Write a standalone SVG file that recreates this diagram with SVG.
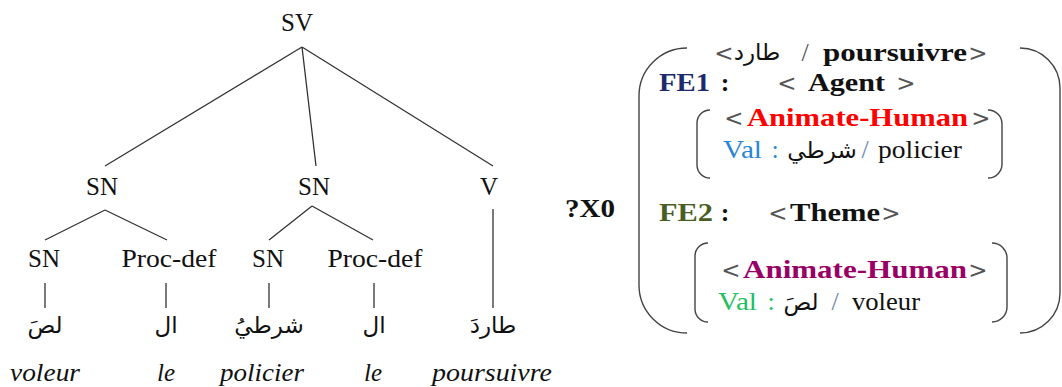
<svg xmlns="http://www.w3.org/2000/svg" width="1062" height="387" viewBox="0 0 1062 387">
<style>
.t{font-family:"Liberation Serif","Times New Roman",serif;font-size:25px;fill:#111}
.c{text-anchor:middle}
.i{font-style:italic}
.ar{font-family:"DejaVu Sans",sans-serif;font-size:23px;fill:#111;text-anchor:middle}
.b{font-family:"Liberation Serif","Times New Roman",serif;font-size:26px;font-weight:bold;fill:#111}
.r{font-family:"Liberation Serif","Times New Roman",serif;font-size:26px;fill:#111}
.sym{font-family:"DejaVu Sans",sans-serif;font-size:23px;fill:#555;text-anchor:middle}
.sl{font-family:"Liberation Serif","Times New Roman",serif;font-size:26px;fill:#555;text-anchor:middle}
.ln{stroke:#333;stroke-width:1.3;fill:none}
.br{stroke:#444;stroke-width:1.4;fill:none}
</style>
<rect width="1062" height="387" fill="#fff"/>
<g id="connectors">
<path class="ln" d="M302,47 L105,166 M302,47 L316,166 M302,47 L493,166"/>
<path class="ln" d="M105,210 L45,240 M105,210 L167,240 M312,206 L269,240 M312,206 L373,240"/>
<path class="ln" d="M45,283 L45,308 M166,283 L166,308 M269,283 L269,308 M374,283 L374,308 M493,209 L493,308"/>
</g>
<g id="n-sv"><text class="t c" x="297" y="31">SV</text></g>
<g id="n-sn1"><text class="t c" x="102" y="195">SN</text></g>
<g id="n-sn2"><text class="t c" x="314" y="195">SN</text></g>
<g id="n-v"><text class="t c" x="489" y="195">V</text></g>
<g id="n-sn1a"><text class="t c" x="44" y="267">SN</text></g>
<g id="n-proc1"><text class="t c" x="169" y="267" textLength="95" lengthAdjust="spacingAndGlyphs">Proc-def</text></g>
<g id="n-sn2a"><text class="t c" x="268" y="267">SN</text></g>
<g id="n-proc2"><text class="t c" x="375" y="267" textLength="95" lengthAdjust="spacingAndGlyphs">Proc-def</text></g>
<g id="n-w1"><text class="ar" x="45" y="333">لصَ</text><text class="t c i" x="45" y="381" textLength="70" lengthAdjust="spacingAndGlyphs">voleur</text></g>
<g id="n-w2"><text class="ar" x="166" y="333">ال</text><text class="t c i" x="166" y="381">le</text></g>
<g id="n-w3"><text class="ar" x="269" y="333">شرطيُ</text><text class="t c i" x="262" y="381" textLength="84" lengthAdjust="spacingAndGlyphs">policier</text></g>
<g id="n-w4"><text class="ar" x="374" y="333">ال</text><text class="t c i" x="373" y="381">le</text></g>
<g id="n-w5"><text class="ar" x="493" y="333">طاردَ</text><text class="t c i" x="492" y="381" textLength="120" lengthAdjust="spacingAndGlyphs">poursuivre</text></g>

<g id="frame">
<text class="b" x="565" y="217" textLength="50" lengthAdjust="spacingAndGlyphs">?X0</text>
<path class="br" d="M687,48 A48,48 0 0 0 639,96 L639,285 A48,48 0 0 0 687,333"/>
<path class="br" d="M1020,48 A40,40 0 0 1 1060,88 L1060,293 A40,40 0 0 1 1020,333"/>
<text class="sym" x="724" y="61">&lt;</text>
<text class="ar" x="757" y="60">طارد</text>
<text class="sl" x="805" y="61">/</text>
<text class="b" x="823" y="61" textLength="144" lengthAdjust="spacingAndGlyphs">poursuivre</text>
<text class="sym" x="978" y="61">&gt;</text>

<g id="fe1">
<text class="b" x="659" y="91" textLength="51" lengthAdjust="spacingAndGlyphs" style="fill:#1c2a6b">FE1</text>
<text class="b c" x="725" y="91">:</text>
<text class="sym" x="787" y="91">&lt;</text>
<text class="b" x="808" y="91" textLength="77" lengthAdjust="spacingAndGlyphs">Agent</text>
<text class="sym" x="906" y="91">&gt;</text>
<path class="br" d="M710,110 A13,13 0 0 0 697,123 L697,165 A13,13 0 0 0 710,178"/>
<path class="br" d="M988,110 A14,14 0 0 1 1002,124 L1002,164 A14,14 0 0 1 988,178"/>
<text class="sym" x="734" y="126">&lt;</text>
<text class="b" x="747" y="126" textLength="221" lengthAdjust="spacingAndGlyphs" style="fill:#ff0000">Animate-Human</text>
<text class="sym" x="981" y="126">&gt;</text>
<text class="r" x="723" y="158" textLength="39" lengthAdjust="spacingAndGlyphs" style="fill:#2a86d4">Val</text>
<text class="r c" x="775" y="158" style="fill:#2a86d4">:</text>
<text class="ar" x="822" y="158">شرطي</text>
<text class="sl" x="865" y="158" style="fill:#6a86a8">/</text>
<text class="r" x="878" y="158" textLength="84" lengthAdjust="spacingAndGlyphs">policier</text>
</g>

<g id="fe2">
<text class="b" x="659" y="221" textLength="54" lengthAdjust="spacingAndGlyphs" style="fill:#4a5e24">FE2</text>
<text class="b c" x="725" y="221">:</text>
<text class="sym" x="778" y="221">&lt;</text>
<text class="b" x="790" y="221" textLength="90" lengthAdjust="spacingAndGlyphs">Theme</text>
<text class="sym" x="891" y="221">&gt;</text>
<path class="br" d="M708,243 A13,13 0 0 0 695,256 L695,309 A13,13 0 0 0 708,322"/>
<path class="br" d="M992,243 A15,15 0 0 1 1007,258 L1007,307 A15,15 0 0 1 992,322"/>
<text class="sym" x="731" y="278">&lt;</text>
<text class="b" x="743" y="278" textLength="224" lengthAdjust="spacingAndGlyphs" style="fill:#990066">Animate-Human</text>
<text class="sym" x="978" y="278">&gt;</text>
<text class="r" x="718" y="310" textLength="39" lengthAdjust="spacingAndGlyphs" style="fill:#1fbf62">Val</text>
<text class="r c" x="771" y="310" style="fill:#1fbf62">:</text>
<text class="ar" x="801" y="310">لصَ</text>
<text class="sl" x="835" y="310" style="fill:#6a86a8">/</text>
<text class="r" x="852" y="310" textLength="68" lengthAdjust="spacingAndGlyphs">voleur</text>
</g>
</g>
</svg>
